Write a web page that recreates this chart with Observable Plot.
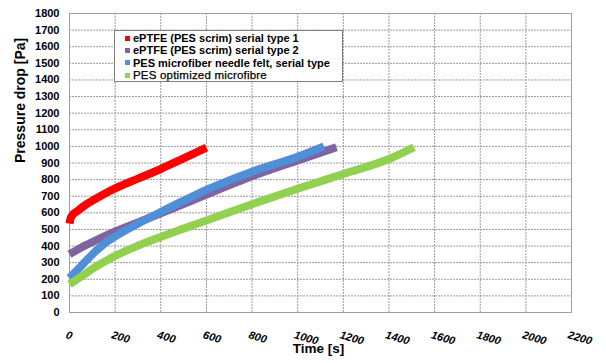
<!DOCTYPE html>
<html><head><meta charset="utf-8">
<script src="https://cdn.jsdelivr.net/npm/d3@7"></script>
<script src="https://cdn.jsdelivr.net/npm/@observablehq/plot@0.6"></script>
<style>
body{margin:0;background:#fff;font-family:"Liberation Sans",Arial,sans-serif;}
#wrap{position:relative;width:606px;height:363px;}
#legend{position:absolute;left:114px;top:30px;width:229px;height:52px;border:1px solid #7f7f7f;background:#fff;box-sizing:border-box;padding-top:1px;}
.row{position:relative;height:12.4px;line-height:12.4px;font-size:11px;font-weight:bold;color:#000;padding-left:18px;white-space:nowrap;}
.row.light{font-weight:normal;font-size:11.5px;letter-spacing:0.2px;-webkit-text-stroke:0.25px #000;}
.sw{position:absolute;left:10px;top:3.7px;width:5px;height:5px;}
</style></head><body><div id="wrap"></div>
<script>
const seriesNames = [
  "ePTFE (PES scrim) serial type 1",
  "ePTFE (PES scrim) serial type 2",
  "PES microfiber needle felt, serial type",
  "PES optimized microfibre"
];
const seriesColors = ["#ff0000", "#8064a2", "#4f8fd8", "#92d050"];

const type1Time = [0, 4, 12, 36, 70, 109, 150, 200, 300, 400, 500, 600];
const type1Pa   = [535, 563, 585, 612, 648, 680, 712, 747, 806, 864, 928, 993];

const type2Time = [0, 50, 109, 200, 300, 400, 500, 600, 800, 1000, 1170];
const type2Pa   = [351, 390, 430, 488, 542, 597, 653, 710, 820, 915, 995];

const feltTime = [0, 25, 50, 80, 109, 140, 168, 200, 300, 400, 500, 600, 800, 1000, 1115];
const feltPa   = [207, 243, 279, 322, 362, 399, 430, 458, 535, 605, 673, 738, 848, 938, 1000];

const optTime = [0, 50, 100, 200, 300, 400, 500, 600, 800, 1000, 1200, 1400, 1510];
const optPa   = [169, 215, 262, 341, 402, 455, 505, 554, 652, 745, 834, 924, 995];

const xTicks = [0, 200, 400, 600, 800, 1000, 1200, 1400, 1600, 1800, 2000, 2200];
const yTicks = [0, 100, 200, 300, 400, 500, 600, 700, 800, 900, 1000, 1100, 1200, 1300, 1400, 1500, 1600, 1700, 1800];

const xTitle = "Time [s]";
const yTitle = "Pressure drop [Pa]";

const seriesTimes = [type1Time, type2Time, feltTime, optTime];
const seriesPas = [type1Pa, type2Pa, feltPa, optPa];
const table = [];
seriesTimes.forEach((ts, i) => ts.forEach((t, j) => table.push({series: seriesNames[i], t, p: seriesPas[i][j]})));

const chart = Plot.plot({
  width: 606,
  height: 363,
  marginLeft: 69,
  marginRight: 35,
  marginTop: 13,
  marginBottom: 51,
  style: {fontFamily: '"Liberation Sans", Arial, sans-serif', background: "#fff", color: "#000"},
  x: {domain: [0, 2200], axis: null},
  y: {domain: [0, 1800], axis: null},
  color: {domain: seriesNames, range: seriesColors},
  marks: [
    Plot.gridX(xTicks, {stroke: "#999", strokeOpacity: 1, strokeDasharray: "2,1"}),
    Plot.gridY(yTicks, {stroke: "#999", strokeOpacity: 1, strokeDasharray: "2,1"}),
    Plot.frame({stroke: "#a0a0a0"}),
    Plot.axisY(yTicks, {tickSize: 0, tickPadding: 10, fontSize: 11, fontWeight: "bold", label: null, tickFormat: d => String(d)}),
    Plot.text(xTicks, {x: d => d, text: d => String(d), frameAnchor: "bottom", dy: 18, dx: -2, rotate: 16,
      textAnchor: "start", lineAnchor: "top", fontSize: 11, fontWeight: "bold", fontStyle: "italic"}),
    Plot.text([yTitle], {text: d => d, frameAnchor: "left", dx: -49, rotate: -90, fontSize: 14, fontWeight: "bold"}),
    Plot.text([xTitle], {text: d => d, frameAnchor: "bottom", dy: 40, dx: -2, fontSize: 13.5, fontWeight: "bold"}),
    Plot.line(table, {x: "t", y: "p", z: "series", stroke: "series", strokeWidth: 8,
      strokeLinecap: "butt", strokeLinejoin: "round", curve: "monotone-x"})
  ]
});
const wrap = document.getElementById("wrap");
wrap.appendChild(chart);

const legend = document.createElement("div");
legend.id = "legend";
seriesNames.forEach((name, i) => {
  const row = document.createElement("div");
  row.className = "row" + (i === 3 ? " light" : "");
  const sw = document.createElement("span");
  sw.className = "sw";
  sw.style.background = seriesColors[i];
  row.appendChild(sw);
  row.appendChild(document.createTextNode(name));
  legend.appendChild(row);
});
wrap.appendChild(legend);
</script>
</body></html>
